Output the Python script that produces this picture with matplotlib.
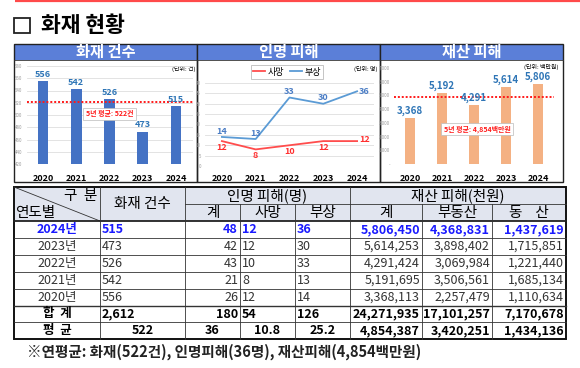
import matplotlib
matplotlib.use('Agg')
import matplotlib.pyplot as plt
from matplotlib.patches import Rectangle
import matplotlib.ticker as mticker

plt.rcParams['font.family'] = ['Noto Sans CJK KR', 'DejaVu Sans']

W, H = 580, 368

# ---------------- data ----------------
years = ['2020', '2021', '2022', '2023', '2024']
fires = [556, 542, 526, 473, 515]
fire_avg = 522
deaths = [12, 8, 10, 12, 12]
injuries = [14, 13, 33, 30, 36]
property_mil = [3368, 5192, 4291, 5614, 5806]
property_avg = 4854

row_labels = ['2024년', '2023년', '2022년', '2021년', '2020년']
t_fires = ['515', '473', '526', '542', '556']
t_cas_total = ['48', '42', '43', '21', '26']
t_deaths = ['12', '12', '10', '8', '12']
t_injuries = ['36', '30', '33', '13', '14']
t_prop_total = ['5,806,450', '5,614,253', '4,291,424', '5,191,695', '3,368,113']
t_real = ['4,368,831', '3,898,402', '3,069,984', '3,506,561', '2,257,479']
t_movable = ['1,437,619', '1,715,851', '1,221,440', '1,685,134', '1,110,634']
sum_row = ['합  계', '2,612', '180', '54', '126', '24,271,935', '17,101,257', '7,170,678']
avg_row = ['평  균', '522', '36', '10.8', '25.2', '4,854,387', '3,420,251', '1,434,136']

footnote = '※연평균: 화재(522건), 인명피해(36명), 재산피해(4,854백만원)'

# ---------------- figure ----------------
fig = plt.figure(figsize=(W / 100, H / 100), dpi=100)
fig.patch.set_facecolor('white')

ov = fig.add_axes([0, 0, 1, 1], zorder=0)
ov.set_xlim(0, W)
ov.set_ylim(H, 0)
ov.axis('off')


def px_axes(x0, y0, x1, y1):
    a = fig.add_axes([x0 / W, 1 - y1 / H, (x1 - x0) / W, (y1 - y0) / H], zorder=2)
    a.set_facecolor('none')
    return a


# top red rule and title
ov.plot([15, W], [1, 1], color='#ff4a4a', lw=1.6, solid_capstyle='butt')
ov.add_patch(Rectangle((14, 18), 16, 15, facecolor='white', edgecolor='#222222', lw=1.3))
ov.text(41, 25, '화재 현황', fontsize=15.5, fontweight='bold', va='center', ha='left', color='black')

# ---------------- chart panels frame ----------------
HEAD_BLUE = '#5b7fd8'
panels = [(14, 197, '화재 건수'), (197, 380, '인명 피해'), (380, 563, '재산 피해')]
for x0, x1, title in panels:
    ov.add_patch(Rectangle((x0, 44), x1 - x0, 16, facecolor=HEAD_BLUE, edgecolor='none'))
    ov.text((x0 + x1) / 2, 52, title, color='white', fontsize=11, fontweight='bold', ha='center', va='center')
    ov.add_patch(Rectangle((x0, 44), x1 - x0, 138, facecolor='none', edgecolor='#222222', lw=1.0))
ov.plot([14, 563], [60, 60], color='#333333', lw=0.6)

ov.text(195, 69, '(단위: 건)', fontsize=4.3, ha='right', va='center')
ov.text(378, 69, '(단위: 명)', fontsize=4.3, ha='right', va='center')
ov.text(558, 67, '(단위: 백만원)', fontsize=4.3, ha='right', va='center')

VAL_BLUE = '#2e75b6'
AVG_RED = '#ff1a1a'
xs = list(range(len(years)))


def style_small(ax, xpad=7):
    for s in ax.spines.values():
        s.set_visible(False)
    ax.tick_params(axis='y', length=0, labelsize=3.2, labelcolor='#9a9a9a', pad=3)
    ax.tick_params(axis='x', length=0, labelsize=6.5, pad=xpad)
    for lab in ax.get_xticklabels():
        lab.set_fontweight('bold')


# ---------------- panel 1: fires ----------------
ax1 = px_axes(26.5, 66, 192.5, 164)
ax1.bar(xs, fires, width=0.32, color='#4472c4', zorder=2)
ax1.set_xlim(-0.5, 4.5)
ax1.set_ylim(420, 580)
ax1.set_yticks(range(420, 581, 20))
ax1.yaxis.grid(True, color='#dedede', lw=0.6)
ax1.set_axisbelow(True)
ax1.set_xticks(xs, years)
style_small(ax1)
for x, v in zip(xs, fires):
    ax1.annotate(f'{v}', (x, v), xytext=(0, 1.5), textcoords='offset points', ha='center', va='bottom',
                 fontsize=6.5, fontweight='bold', color=VAL_BLUE, zorder=4)
ax1.axhline(fire_avg, color=AVG_RED, lw=1.4, ls=(0, (1, 1)), zorder=3)
ax1.text(2.0, 502, f'5년 평균: {fire_avg}건', fontsize=5, fontweight='bold', color=AVG_RED, ha='center', va='center',
         zorder=5, bbox=dict(boxstyle='square,pad=0.35', facecolor='white', edgecolor='#bbbbbb', lw=0.5))

# ---------------- panel 2: casualties ----------------
ax2 = px_axes(205, 83, 374, 166)
ax2.plot(xs, deaths, color='#ff4d4d', lw=1.3, label='사망', zorder=3)
ax2.plot(xs, injuries, color='#5b9bd5', lw=1.3, label='부상', zorder=3)
ax2.set_xlim(-0.5, 4.5)
ax2.set_ylim(0, 40)
ax2.set_yticks(range(0, 41, 5))
ax2.yaxis.grid(True, color='#dedede', lw=0.6)
ax2.set_axisbelow(True)
ax2.set_xticks(xs, years)
style_small(ax2, xpad=5.5)
for i, (d, inj) in enumerate(zip(deaths, injuries)):
    if i < len(xs) - 1:
        ax2.annotate(f'{inj}', (i, inj), xytext=(0, 1), textcoords='offset points', ha='center', va='bottom',
                     fontsize=6.5, fontweight='bold', color='#4a7cc4')
        ax2.annotate(f'{d}', (i, d), xytext=(0, -1.5), textcoords='offset points', ha='center', va='top',
                     fontsize=6.5, fontweight='bold', color='#ff3030')
    else:
        ax2.annotate(f'{inj}', (i, inj), xytext=(1.5, 0), textcoords='offset points', ha='left', va='center',
                     fontsize=6.5, fontweight='bold', color='#4a7cc4')
        ax2.annotate(f'{d}', (i, d), xytext=(1.5, 1), textcoords='offset points', ha='left', va='center',
                     fontsize=6.5, fontweight='bold', color='#ff3030')
leg = ax2.legend(loc='center', bbox_to_anchor=(287 / W, 1 - 72 / H), bbox_transform=fig.transFigure, ncol=2,
                 fontsize=6.5, handlelength=1.3, columnspacing=0.7, handletextpad=0.3, frameon=True,
                 fancybox=False, edgecolor='#aaaaaa', borderpad=0.25)
leg.get_frame().set_linewidth(0.6)

# ---------------- panel 3: property ----------------
ax3 = px_axes(394, 68, 554, 164)
ax3.bar(xs, property_mil, width=0.32, color='#f4b183', zorder=2)
ax3.set_xlim(-0.5, 4.5)
ax3.set_ylim(0, 7000)
ax3.set_yticks(range(0, 7001, 1000))
ax3.yaxis.set_major_formatter(mticker.FuncFormatter(lambda v, p: '-' if v == 0 else f'{int(v):,}'))
ax3.set_xticks(xs, years)
style_small(ax3)
for x, v in zip(xs, property_mil):
    ax3.annotate(f'{v:,}', (x, v), xytext=(0, 1.5), textcoords='offset points', ha='center', va='bottom',
                 fontsize=7, fontweight='bold', color=VAL_BLUE, zorder=4)
ax3.axhline(property_avg, color=AVG_RED, lw=1.4, ls=(0, (1, 1)), zorder=3)
ax3.text(2.1, 2550, f'5년 평균: {property_avg:,}백만원', fontsize=5, fontweight='bold', color=AVG_RED, ha='center',
         va='center', zorder=5,
         bbox=dict(boxstyle='square,pad=0.35', facecolor='white', edgecolor='#bbbbbb', lw=0.5))

# ---------------- table ----------------
col_x = [14, 100, 185, 240, 295, 350, 422, 492, 566]
hy = [187, 204, 221]
row_y = [221, 238, 255, 272, 289, 306, 322, 339]
HEAD_BG = '#e1e5ef'
TFS = 9
HFS = 10.5

ov.add_patch(Rectangle((col_x[0], hy[0]), col_x[-1] - col_x[0], hy[2] - hy[0], facecolor=HEAD_BG, edgecolor='none'))

# header texts
ov.plot([col_x[0], col_x[1]], [hy[0], hy[2]], color='#333333', lw=0.6)
ov.text(col_x[1] - 3, 196, '구  분', fontsize=HFS, ha='right', va='center')
ov.text(col_x[0] + 1, 213, '연도별', fontsize=HFS, ha='left', va='center')
ov.text((col_x[1] + col_x[2]) / 2, (hy[0] + hy[2]) / 2, '화재 건수', fontsize=HFS, ha='center', va='center')
ov.text((col_x[2] + col_x[5]) / 2, (hy[0] + hy[1]) / 2, '인명 피해(명)', fontsize=HFS, ha='center', va='center')
ov.text((col_x[5] + col_x[8]) / 2, (hy[0] + hy[1]) / 2, '재산 피해(천원)', fontsize=HFS, ha='center', va='center')
sub_heads = ['계', '사망', '부상', '계', '부동산', '동    산']
for j, s in enumerate(sub_heads):
    c = j + 2
    ov.text((col_x[c] + col_x[c + 1]) / 2, (hy[1] + hy[2]) / 2, s, fontsize=HFS, ha='center', va='center')

# rows
data_rows = []
for i in range(len(row_labels)):
    data_rows.append([row_labels[i], t_fires[i], t_cas_total[i], t_deaths[i], t_injuries[i],
                      t_prop_total[i], t_real[i], t_movable[i]])
data_rows.append(sum_row)
data_rows.append(avg_row)

norm_align = ['center', 'left', 'right', 'left', 'left', 'right', 'right', 'right']
avg_align = ['center', 'center', 'center', 'center', 'center', 'right', 'right', 'right']

for r, row in enumerate(data_rows):
    yc = (row_y[r] + row_y[r + 1]) / 2
    is_avg = r == len(data_rows) - 1
    bold = r == 0 or r >= len(row_labels)
    color = '#1a1aff' if r == 0 else ('black' if bold else '#333333')
    aligns = avg_align if is_avg else norm_align
    for c, val in enumerate(row):
        a = aligns[c]
        if a == 'center':
            x = (col_x[c] + col_x[c + 1]) / 2
        elif a == 'left':
            x = col_x[c] + 2
        else:
            x = col_x[c + 1] - 2
        ov.text(x, yc, val, fontsize=TFS, ha=a, va='center', color=color,
                fontweight='bold' if bold else 'normal')

# grid lines
for y in row_y[1:-1]:
    lw = 1.0 if y == row_y[len(row_labels)] else 0.6
    ov.plot([col_x[0], col_x[-1]], [y, y], color='#333333', lw=lw)
ov.plot([col_x[0], col_x[-1]], [hy[2], hy[2]], color='#222222', lw=1.3)
ov.plot([col_x[2], col_x[-1]], [hy[1], hy[1]], color='#333333', lw=0.6)
for c in range(1, len(col_x) - 1):
    top = hy[1] if c in (3, 4, 6, 7) else hy[0]
    ov.plot([col_x[c], col_x[c]], [top, row_y[-1]], color='#333333', lw=0.6)
ov.add_patch(Rectangle((col_x[0], hy[0]), col_x[-1] - col_x[0], row_y[-1] - hy[0], facecolor='none',
                       edgecolor='#111111', lw=1.4))

ov.text(27, 352, footnote, fontsize=10.5, fontweight='bold', ha='left', va='center', color='#222222')

fig.savefig('out.png', dpi=100)
